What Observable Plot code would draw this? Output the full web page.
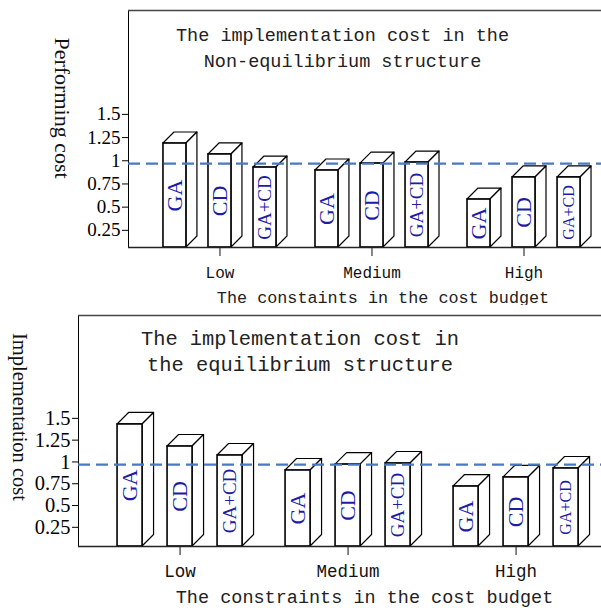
<!DOCTYPE html>
<html><head><meta charset="utf-8">
<script src="https://cdn.jsdelivr.net/npm/d3@7"></script>
<script src="https://cdn.jsdelivr.net/npm/@observablehq/plot@0.6"></script>
<style>
html,body{margin:0;padding:0;background:#fff;overflow:hidden}
#chart{position:relative;width:601px;height:608px}
.panel{position:absolute;left:0;width:601px}
.panel svg{position:absolute;left:0;top:0;overflow:visible}
</style></head><body><div id="chart"></div>
<script>
// ---- data ----
const budgets = ["Low", "Medium", "High"];
const methods = ["GA", "CD", "GA+CD"];
const nonEquilibriumCost = [[1.186, 1.068, 0.927], [0.895, 0.97, 0.981], [0.582, 0.82, 0.82]];
const equilibriumCost = [[1.43, 1.177, 1.074], [0.902, 0.97, 0.982], [0.718, 0.822, 0.925]];
const yTickValues = [0.25, 0.5, 0.75, 1, 1.25, 1.5];
const referenceLevel = 0.97;

const panels = [
  {top: 0, height: 305, mt: 10, mb: 58, ml: 128, y0: 0.065, y1: 2.62, values: nonEquilibriumCost,
   fpi: 0.2566, fpo: 0.184, fal: 0.625, xpi: 0.49, depth: 11,
   tickFont: 16, fxPad: 10, yFont: 19,
   title: "The implementation cost in the\nNon-equilibrium structure", titleFont: 18.5, titleLH: 1.4, titleDx: -22.5, titleDy: 12,
   xTitle: "The constaints in the cost budget", xTitleFont: 16.8, xTitleDx: 18, xTitleDy: 55,
   yTitle: "Performing cost", yTitleFont: 22, yTitleDx: -66, yTitleDy: -21},
  {top: 305, height: 303, mt: 10, mb: 62, ml: 78, y0: 0.03, y1: 2.68, values: equilibriumCost,
   fpi: 0.256, fpo: 0.1845, fal: 0.63, xpi: 0.5, depth: 11.5,
   tickFont: 17.5, fxPad: 9, yFont: 20.5,
   title: "The implementation cost in\nthe equilibrium structure", titleFont: 20.4, titleLH: 1.275, titleDx: -40, titleDy: 11,
   xTitle: "The constraints in the cost budget", xTitleFont: 18.5, xTitleDx: 24.5, xTitleDy: 56,
   yTitle: "Implementation cost", yTitleFont: 20.5, yTitleDx: -59, yTitleDy: -14}
];

function labelSize(d) {
  if (d.method === "GA+CD") return d.budget === "High" ? 16 : 19;
  return 22;
}

function makePanel(p) {
  const rows = budgets.flatMap((b, i) => methods.map((m, j) => ({budget: b, method: m, value: p.values[i][j]})));
  const common = {width: 601, height: p.height, marginTop: p.mt, marginBottom: p.mb, marginLeft: p.ml, marginRight: 0};
  const yDomain = [p.y0, p.y1];

  const bars = Plot.plot({
    ...common,
    style: {fontFamily: "Liberation Mono", fontSize: p.tickFont + "px", color: "#111", background: "white"},
    facet: {data: rows, x: "budget"},
    fx: {domain: budgets, axis: "bottom", label: null, tickSize: 9, tickPadding: p.fxPad,
         paddingInner: p.fpi, paddingOuter: p.fpo, align: p.fal, round: false},
    x: {domain: methods, axis: null, paddingInner: p.xpi, paddingOuter: 0, round: false},
    y: {domain: yDomain, axis: null},
    marks: [
      Plot.barY(rows, {x: "method", y1: () => p.y0, y2: "value", fill: "white", stroke: "black", strokeWidth: 1.6}),
      Plot.text(rows, {x: "method", y: d => (p.y0 + d.value) / 2, text: "method", rotate: -90,
        fill: "#1c1ca6", fontFamily: "Liberation Serif", fontSize: labelSize})
    ]
  });

  // 3D top and side faces, derived from the bars Plot positioned
  const dpt = p.depth;
  bars.querySelectorAll('g[aria-label="bar"] rect').forEach(r => {
    const x = +r.getAttribute("x"), y = +r.getAttribute("y");
    const w = +r.getAttribute("width"), h = +r.getAttribute("height");
    const faces = [
      [[x, y], [x + dpt, y - dpt], [x + w + dpt, y - dpt], [x + w, y]],
      [[x + w, y], [x + w + dpt, y - dpt], [x + w + dpt, y + h - dpt], [x + w, y + h]]
    ];
    for (const f of faces) {
      const poly = document.createElementNS("http://www.w3.org/2000/svg", "polygon");
      poly.setAttribute("points", f.map(q => q.join(",")).join(" "));
      poly.setAttribute("fill", "white");
      poly.setAttribute("stroke", "black");
      poly.setAttribute("stroke-width", "1.2");
      poly.setAttribute("stroke-linejoin", "round");
      r.parentNode.insertBefore(poly, r);
    }
  });

  const overlay = Plot.plot({
    ...common,
    style: {fontFamily: "Liberation Serif", fontSize: p.yFont + "px", color: "black", background: "transparent", overflow: "visible"},
    y: {domain: yDomain, ticks: yTickValues, tickFormat: d => String(d), tickSize: 6, tickPadding: 2, line: true, label: null},
    marks: [
      Plot.ruleY([p.y1], {stroke: "#444", strokeWidth: 1.5}),
      Plot.ruleY([p.y0], {stroke: "#222", strokeWidth: 1.5}),
      Plot.ruleY([referenceLevel], {stroke: "#4a78c4", strokeWidth: 2.2, strokeDasharray: "12,6"}),
      Plot.text([p.title], {frameAnchor: "top", text: d => d, dx: p.titleDx, dy: p.titleDy,
        fontFamily: "Liberation Mono", fontSize: p.titleFont, lineHeight: p.titleLH, fill: "#222"}),
      Plot.text([p.xTitle], {frameAnchor: "bottom", text: d => d, dx: p.xTitleDx, dy: p.xTitleDy,
        fontFamily: "Liberation Mono", fontSize: p.xTitleFont, fill: "#222"}),
      Plot.text([p.yTitle], {frameAnchor: "left", textAnchor: "middle", lineAnchor: "middle", text: d => d, rotate: 90,
        dx: p.yTitleDx, dy: p.yTitleDy, fontFamily: "Liberation Serif", fontSize: p.yTitleFont, fill: "#111"})
    ]
  });

  const div = document.createElement("div");
  div.className = "panel";
  div.style.top = p.top + "px";
  div.style.height = p.height + "px";
  div.appendChild(bars);
  div.appendChild(overlay);
  return div;
}

const chart = document.getElementById("chart");
for (const p of panels) chart.appendChild(makePanel(p));
</script></body></html>
